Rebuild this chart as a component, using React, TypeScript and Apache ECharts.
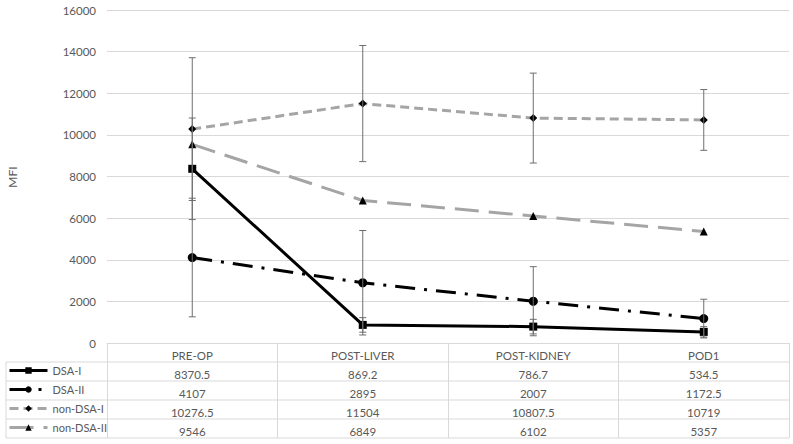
import React, { useEffect, useRef } from "react";
import * as echarts from "echarts";

const categories = ["PRE-OP", "POST-LIVER", "POST-KIDNEY", "POD1"];
const seriesNames = ["DSA-I", "DSA-II", "non-DSA-I", "non-DSA-II"];
const dsaI = [8370.5, 869.2, 786.7, 534.5];
const dsaII = [4107, 2895, 2007, 1172.5];
const nonDsaI = [10276.5, 11504, 10807.5, 10719];
const nonDsaII = [9546, 6849, 6102, 5357];
const dsaIErr = [2440, 350, 350, 250];
const dsaIIErr = [2850, 2510, 1660, 930];
const nonDsaIErr = [3430, 2790, 2160, 1460];
const yTicks = { min: 0, max: 16000, interval: 2000 };

const FONT = "Lato, 'Liberation Sans', sans-serif";
const TXT = "#595959";
const GRID = "#d9d9d9";
const GRAY = "#a5a5a5";

export default function App() {
  const ref = useRef<HTMLDivElement>(null);
  useEffect(() => {
    if (!ref.current) return;
    const chart = echarts.init(ref.current, null, { renderer: "svg" });
    const W = 793;
    const gridLeft = 107;
    const gridTop = 10;
    const gridBottomY = 343;
    const rowH = 19;
    const tableLeft = 6;
    const tableRight = 789;

    const values = [dsaI, dsaII, nonDsaI, nonDsaII];
    const errs = [dsaIErr, dsaIIErr, nonDsaIErr];
    const errorData: number[][] = [];
    errs.forEach((e, s) => {
      e.forEach((v, i) => errorData.push([i, values[s][i], v]));
    });

    const valueAxes = values.map((arr, k) => ({
      type: "category",
      gridIndex: 0,
      position: "bottom",
      offset: rowH * (k + 1),
      data: arr.map((v) => String(v)),
      boundaryGap: true,
      axisLine: { show: false },
      axisTick: { show: false },
      axisLabel: { color: TXT, fontSize: 11.5, fontFamily: FONT, margin: 6, interval: 0 },
    }));

    const legends = seriesNames.map((n, k) => ({
      data: [n],
      orient: "horizontal",
      left: 8,
      top: gridBottomY + rowH * (k + 1) + 3,
      padding: 0,
      itemWidth: 38,
      itemHeight: 8,
      lineStyle: { width: 3 },
      textStyle: { color: TXT, fontSize: 11, fontFamily: FONT },
      selectedMode: false,
    }));

    const graphic: any[] = [];
    for (let k = 1; k <= 5; k++) {
      const y = gridBottomY + rowH * k;
      graphic.push({
        type: "line",
        shape: { x1: tableLeft, y1: y, x2: tableRight, y2: y },
        style: { stroke: GRID, lineWidth: 1 },
        silent: true,
      });
    }
    graphic.push({
      type: "line",
      shape: { x1: tableLeft, y1: gridBottomY + rowH, x2: tableLeft, y2: gridBottomY + rowH * 5 },
      style: { stroke: GRID, lineWidth: 1 },
    });
    graphic.push({
      type: "text",
      x: 12,
      y: 177,
      rotation: Math.PI / 2,
      style: { text: "MFI", fill: TXT, font: `12px ${FONT}`, align: "center", verticalAlign: "middle" },
    });

    const lineCommon = { showSymbol: true, xAxisIndex: 0, yAxisIndex: 0, z: 3 };

    chart.setOption({
      animation: false,
      textStyle: { fontFamily: FONT },
      grid: { left: gridLeft, right: W - tableRight, top: gridTop, bottom: 444 - gridBottomY, containLabel: false },
      legend: legends,
      xAxis: [
        {
          type: "category",
          data: categories,
          boundaryGap: true,
          axisLine: { show: true, lineStyle: { color: GRID } },
          axisTick: { show: true, interval: 0, length: rowH * 5, lineStyle: { color: GRID } },
          axisLabel: { color: TXT, fontSize: 11.5, fontFamily: FONT, margin: 6, interval: 0 },
        },
        ...valueAxes,
      ],
      yAxis: {
        type: "value",
        min: yTicks.min,
        max: yTicks.max,
        interval: yTicks.interval,
        axisLine: { show: false },
        axisTick: { show: false },
        splitLine: { lineStyle: { color: GRID } },
        axisLabel: {
          color: TXT,
          fontSize: 11.5,
          fontFamily: FONT,
          margin: 11,
          formatter: (v: number) => String(v),
        },
      },
      graphic,
      series: [
        {
          ...lineCommon,
          name: seriesNames[0],
          type: "line",
          data: dsaI,
          symbol: "rect",
          symbolSize: 8,
          itemStyle: { color: "#000" },
          lineStyle: { color: "#000", width: 3 },
        },
        {
          ...lineCommon,
          name: seriesNames[1],
          type: "line",
          data: dsaII,
          symbol: "circle",
          symbolSize: 9,
          itemStyle: { color: "#000" },
          lineStyle: { color: "#000", width: 3, type: [20, 9, 3, 9] },
        },
        {
          ...lineCommon,
          name: seriesNames[2],
          type: "line",
          data: nonDsaI,
          symbol: "diamond",
          symbolSize: 8,
          itemStyle: { color: "#000" },
          lineStyle: { color: GRAY, width: 3, type: [9, 5] },
        },
        {
          ...lineCommon,
          name: seriesNames[3],
          type: "line",
          data: nonDsaII,
          symbol: "triangle",
          symbolSize: 8,
          itemStyle: { color: "#000" },
          lineStyle: { color: GRAY, width: 3, type: [24, 10] },
        },
        {
          type: "custom",
          name: "error",
          xAxisIndex: 0,
          yAxisIndex: 0,
          z: 4,
          encode: { x: 0, y: 1 },
          data: errorData,
          renderItem: (params: any, api: any) => {
            const xi = api.value(0);
            const v = api.value(1);
            const e = api.value(2);
            const x = api.coord([xi, v])[0];
            const hi = api.coord([xi, v + e])[1];
            const lo = api.coord([xi, v - e])[1];
            const style = { stroke: "#6e6e6e", lineWidth: 1, fill: "none" };
            return {
              type: "group",
              children: [
                { type: "line", shape: { x1: x, y1: hi, x2: x, y2: lo }, style },
                { type: "line", shape: { x1: x - 3.5, y1: hi, x2: x + 3.5, y2: hi }, style },
                { type: "line", shape: { x1: x - 3.5, y1: lo, x2: x + 3.5, y2: lo }, style },
              ],
            };
          },
        },
      ],
    });
    return () => chart.dispose();
  }, []);
  return (
    <div
      ref={ref}
      style={{ position: "fixed", left: 0, top: 0, width: 793, height: 444, background: "#fff" }}
    />
  );
}
